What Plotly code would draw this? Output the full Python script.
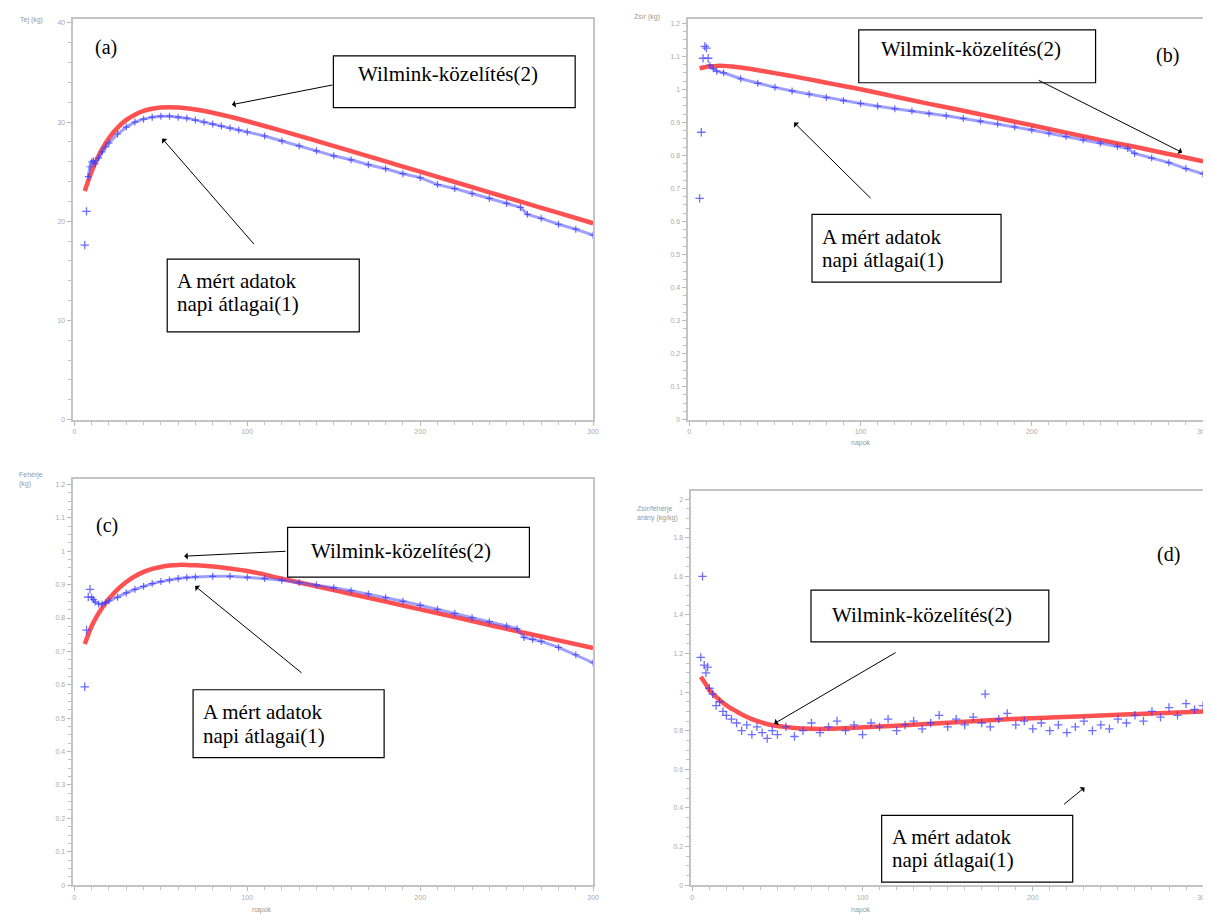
import plotly.graph_objects as go

W, H = 1211, 915

# ---------------- data ----------------
days_a_fit = [6, 8, 10, 13, 16, 20, 25, 30, 35, 40, 45, 50, 60, 70, 80, 90, 100, 120, 140, 160, 180, 200, 220, 240, 260, 280, 300]
milk_fit = [23.05, 24.09, 25.02, 26.24, 27.27, 28.38, 29.44, 30.22, 30.75, 31.13, 31.35, 31.47, 31.47, 31.27, 30.95, 30.54, 30.09, 29.12, 28.10, 27.08, 26.04, 25.00, 23.96, 22.92, 21.88, 20.84, 19.80]
days_a_obs = [6, 7, 8, 9, 10, 11, 12, 14, 16, 18, 20, 25, 30, 35, 40, 45, 50, 55, 60, 65, 70, 75, 80, 85, 90, 95, 100, 110, 120, 130, 140, 150, 160, 170, 180, 190, 200, 210, 220, 230, 240, 250, 258, 262, 270, 280, 290, 300]
milk_obs = [17.6, 21.0, 24.5, 25.5, 26.0, 26.1, 25.8, 26.4, 27.0, 27.5, 27.9, 28.8, 29.5, 30.0, 30.3, 30.5, 30.6, 30.6, 30.5, 30.4, 30.2, 30.0, 29.8, 29.6, 29.4, 29.2, 29.0, 28.6, 28.1, 27.6, 27.1, 26.6, 26.2, 25.7, 25.3, 24.8, 24.4, 23.7, 23.3, 22.8, 22.3, 21.8, 21.4, 20.7, 20.3, 19.7, 19.2, 18.6]

days_b_fit = [6, 8, 10, 13, 16, 20, 25, 30, 40, 50, 60, 70, 80, 90, 100, 120, 140, 160, 180, 200, 220, 240, 260, 280, 300]
fat_fit = [1.064, 1.066, 1.068, 1.070, 1.071, 1.071, 1.069, 1.066, 1.058, 1.049, 1.040, 1.030, 1.020, 1.010, 1.000, 0.978, 0.956, 0.935, 0.913, 0.891, 0.869, 0.847, 0.826, 0.804, 0.782]
days_b_obs = [6, 7, 8, 9, 10, 11, 12, 14, 16, 20, 30, 40, 50, 60, 70, 80, 90, 100, 110, 120, 130, 140, 150, 160, 170, 180, 190, 200, 210, 220, 230, 240, 250, 256, 260, 270, 280, 290, 300]
fat_obs = [0.67, 0.87, 1.094, 1.13, 1.125, 1.094, 1.073, 1.062, 1.055, 1.050, 1.032, 1.018, 1.006, 0.995, 0.985, 0.975, 0.966, 0.957, 0.949, 0.941, 0.934, 0.927, 0.920, 0.912, 0.904, 0.895, 0.886, 0.877, 0.867, 0.857, 0.847, 0.837, 0.827, 0.821, 0.806, 0.792, 0.778, 0.760, 0.744]

days_c_fit = [6, 8, 10, 13, 16, 20, 25, 30, 35, 40, 45, 50, 55, 60, 65, 70, 80, 90, 100, 120, 140, 160, 180, 200, 220, 240, 260, 280, 300]
prot_fit = [0.722, 0.750, 0.776, 0.806, 0.830, 0.858, 0.886, 0.908, 0.925, 0.938, 0.947, 0.953, 0.957, 0.959, 0.959, 0.958, 0.954, 0.948, 0.941, 0.918, 0.895, 0.872, 0.849, 0.826, 0.803, 0.779, 0.756, 0.733, 0.710]
days_c_obs = [6, 7, 8, 9, 10, 11, 12, 14, 16, 18, 20, 25, 30, 35, 40, 45, 50, 55, 60, 65, 70, 80, 90, 100, 110, 120, 130, 140, 150, 160, 170, 180, 190, 200, 210, 220, 230, 240, 250, 256, 260, 265, 270, 280, 290, 300]
prot_obs = [0.594, 0.764, 0.863, 0.886, 0.862, 0.855, 0.848, 0.842, 0.842, 0.846, 0.851, 0.862, 0.875, 0.886, 0.895, 0.903, 0.909, 0.914, 0.918, 0.921, 0.923, 0.925, 0.925, 0.922, 0.918, 0.913, 0.906, 0.899, 0.891, 0.882, 0.872, 0.861, 0.850, 0.838, 0.826, 0.814, 0.801, 0.789, 0.776, 0.768, 0.742, 0.736, 0.730, 0.712, 0.690, 0.666]

days_d_fit = [5, 8, 10, 14, 18, 22, 26, 30, 35, 40, 45, 50, 60, 70, 80, 95, 120, 150, 180, 210, 240, 270, 300]
ratio_fit = [1.08, 1.04, 1.01, 0.975, 0.945, 0.92, 0.90, 0.88, 0.86, 0.845, 0.832, 0.824, 0.814, 0.810, 0.810, 0.815, 0.826, 0.841, 0.857, 0.868, 0.879, 0.889, 0.899]
days_d_obs = [5, 6, 7, 8, 9, 10, 12, 14, 16, 18, 20, 23, 26, 29, 32, 35, 38, 41, 44, 47, 50, 55, 60, 65, 70, 75, 80, 85, 90, 95, 100, 105, 110, 115, 120, 125, 130, 135, 140, 145, 150, 155, 160, 165, 170, 172, 175, 180, 185, 190, 195, 200, 205, 210, 215, 220, 225, 230, 235, 240, 245, 250, 255, 260, 265, 270, 275, 280, 285, 290, 295, 300]
ratio_obs = [1.18, 1.60, 1.14, 1.10, 1.13, 1.02, 0.99, 0.93, 0.95, 0.90, 0.88, 0.86, 0.84, 0.80, 0.83, 0.78, 0.82, 0.79, 0.76, 0.80, 0.78, 0.82, 0.77, 0.80, 0.84, 0.79, 0.82, 0.85, 0.80, 0.83, 0.78, 0.84, 0.82, 0.86, 0.80, 0.83, 0.85, 0.81, 0.84, 0.88, 0.82, 0.86, 0.83, 0.87, 0.84, 0.99, 0.82, 0.86, 0.89, 0.83, 0.85, 0.81, 0.84, 0.80, 0.83, 0.79, 0.82, 0.85, 0.80, 0.83, 0.81, 0.86, 0.84, 0.88, 0.85, 0.90, 0.87, 0.92, 0.88, 0.94, 0.91, 0.93]

x_ticks = [0, 100, 200, 300]
y_titles = ["Tej (kg)", "Zsír (kg)", "Fehérje<br>(kg)", "Zsír/fehérje<br>arány (kg/kg)"]
x_title = "napok"
panel_tags = ["(a)", "(b)", "(c)", "(d)"]
fit_label = "Wilmink-közelítés(2)"
obs_label = ["A mért adatok", "napi átlagai(1)"]

RED = "rgba(255,50,50,0.85)"
BLUE = "rgba(60,60,255,0.75)"

fig = go.Figure()

def px_x(p):
    return p / W

def px_y(p):
    return 1 - p / H

panels = [
    (days_a_fit, milk_fit, days_a_obs, milk_obs, 2, "x", "y"),
    (days_b_fit, fat_fit, days_b_obs, fat_obs, 6, "x2", "y2"),
    (days_c_fit, prot_fit, days_c_obs, prot_obs, 4, "x3", "y3"),
    (days_d_fit, ratio_fit, days_d_obs, ratio_obs, None, "x4", "y4"),
]

for fx, fy, ox, oy, nout, xa, ya in panels:
    fig.add_trace(go.Scatter(x=fx, y=fy, mode="lines", line=dict(color=RED, width=4.5, shape="spline"),
                             xaxis=xa, yaxis=ya, showlegend=False, hoverinfo="skip"))
    if nout is None:
        fig.add_trace(go.Scatter(x=ox, y=oy, mode="markers",
                                 marker=dict(symbol="cross-thin", size=6, line=dict(width=1.3, color=BLUE)),
                                 xaxis=xa, yaxis=ya, showlegend=False))
    else:
        fig.add_trace(go.Scatter(x=ox[:nout], y=oy[:nout], mode="markers",
                                 marker=dict(symbol="cross-thin", size=6, line=dict(width=1.3, color=BLUE)),
                                 xaxis=xa, yaxis=ya, showlegend=False))
        fig.add_trace(go.Scatter(x=ox[nout:], y=oy[nout:], mode="lines+markers",
                                 line=dict(color="rgba(80,80,255,0.55)", width=3),
                                 marker=dict(symbol="cross-thin", size=5, line=dict(width=1.2, color=BLUE)),
                                 xaxis=xa, yaxis=ya, showlegend=False))

axis_common = dict(showline=True, linecolor="#c4c4c4", linewidth=2, mirror=True, ticks="outside",
                   ticklen=4, tickcolor="#b8b8b8", tickwidth=1, showgrid=False, zeroline=False,
                   tickfont=dict(size=7, color="#aaaaaa", family="Liberation Sans"))

def xa(dom, anchor):
    return dict(axis_common, domain=dom, anchor=anchor, range=[-1, 300], tickvals=x_ticks,
                minor=dict(dtick=10, ticklen=3, tickcolor="#c0c0c0", ticks="outside"))

def ya(dom, anchor, rng, dt, mdt):
    return dict(axis_common, domain=dom, anchor=anchor, range=rng, dtick=dt,
                minor=dict(dtick=mdt, ticklen=3, tickcolor="#c0c0c0", ticks="outside"))

fig.update_layout(
    width=W, height=H, margin=dict(l=0, r=0, t=0, b=0),
    paper_bgcolor="white", plot_bgcolor="white",
    xaxis=xa([px_x(65), px_x(588)], "y"),
    yaxis=ya([px_y(413), px_y(11)], "x", [0, 40.4], 10, 2),
    xaxis2=xa([px_x(683), px_x(1201)], "y2"),
    yaxis2=ya([px_y(413), px_y(11)], "x2", [0, 1.213], 0.1, 0.025),
    xaxis3=xa([px_x(65), px_x(588)], "y3"),
    yaxis3=ya([px_y(880), px_y(473)], "x3", [0, 1.215], 0.1, 0.025),
    xaxis4=xa([px_x(686), px_x(1201)], "y4"),
    yaxis4=ya([px_y(880), px_y(485)], "x4", [0, 2.04], 0.2, 0.05),
)

serif = "Liberation Serif, Times New Roman, serif"
small = dict(size=7, color="#999999", family="Liberation Sans")

ann = []
shapes = []

def text(px, py, s, size=21, anchor="left", font=None):
    ann.append(dict(xref="paper", yref="paper", x=px_x(px), y=px_y(py), text=s, showarrow=False,
                    xanchor=anchor, yanchor="middle", font=font or dict(size=size, color="black", family=serif)))

def box(x0, y0, x1, y1):
    shapes.append(dict(type="rect", xref="paper", yref="paper", x0=px_x(x0), x1=px_x(x1),
                       y0=px_y(y1), y1=px_y(y0), line=dict(color="black", width=1.2), fillcolor="white"))

def arrow(tx, ty, hx, hy):
    ann.append(dict(xref="paper", yref="paper", x=px_x(hx), y=px_y(hy), ax=tx - hx, ay=ty - hy,
                    text="", showarrow=True, arrowhead=1, arrowsize=1.2, arrowwidth=1, arrowcolor="black"))

text(85, 40, panel_tags[0], 20)
text(1152, 48, panel_tags[1], 20)
text(86, 519, panel_tags[2], 20)
text(1153, 548, panel_tags[3], 20)

for (x0, y0, x1, y1, tx, ty) in [(327, 48, 570, 100, 350, 66), (855, 22, 1093, 75, 875, 41),
                                  (281, 521, 524, 571, 303, 545), (807, 584, 1046, 636, 826, 609)]:
    box(x0, y0, x1, y1)
    text(tx, ty, fit_label)

for (x0, y0, x1, y1, tx, ty1, ty2) in [(160, 252, 353, 325, 168, 274, 297), (808, 207, 998, 275, 816, 230, 253),
                                        (186, 684, 378, 752, 194, 706, 730), (878, 810, 1070, 877, 886, 832, 855)]:
    box(x0, y0, x1, y1)
    text(tx, ty1, obs_label[0])
    text(tx, ty2, obs_label[1])

arrow(327, 77, 225, 97)
arrow(248, 238, 155, 131)
arrow(1035, 72, 1180, 145)
arrow(868, 192, 790, 115)
arrow(280, 545, 177, 550)
arrow(296, 668, 188, 580)
arrow(893, 646, 770, 718)
arrow(1060, 800, 1082, 782)

ann.append(dict(xref="paper", yref="paper", x=px_x(10), y=px_y(12), text=y_titles[0], showarrow=False,
                xanchor="left", yanchor="middle", font=small))
ann.append(dict(xref="paper", yref="paper", x=px_x(627), y=px_y(9), text=y_titles[1], showarrow=False,
                xanchor="left", yanchor="middle", font=small))
ann.append(dict(xref="paper", yref="paper", x=px_x(9), y=px_y(473), text=y_titles[2], showarrow=False,
                xanchor="left", yanchor="middle", align="left", font=small))
ann.append(dict(xref="paper", yref="paper", x=px_x(630), y=px_y(507), text=y_titles[3], showarrow=False,
                xanchor="left", yanchor="middle", align="left", font=small))
for (xp, yp) in [(857, 436), (255, 905), (857, 905)]:
    ann.append(dict(xref="paper", yref="paper", x=px_x(xp), y=px_y(yp), text=x_title, showarrow=False,
                    xanchor="center", yanchor="middle", font=small))

fig.update_layout(annotations=ann, shapes=shapes)
fig.write_html("out.html")
